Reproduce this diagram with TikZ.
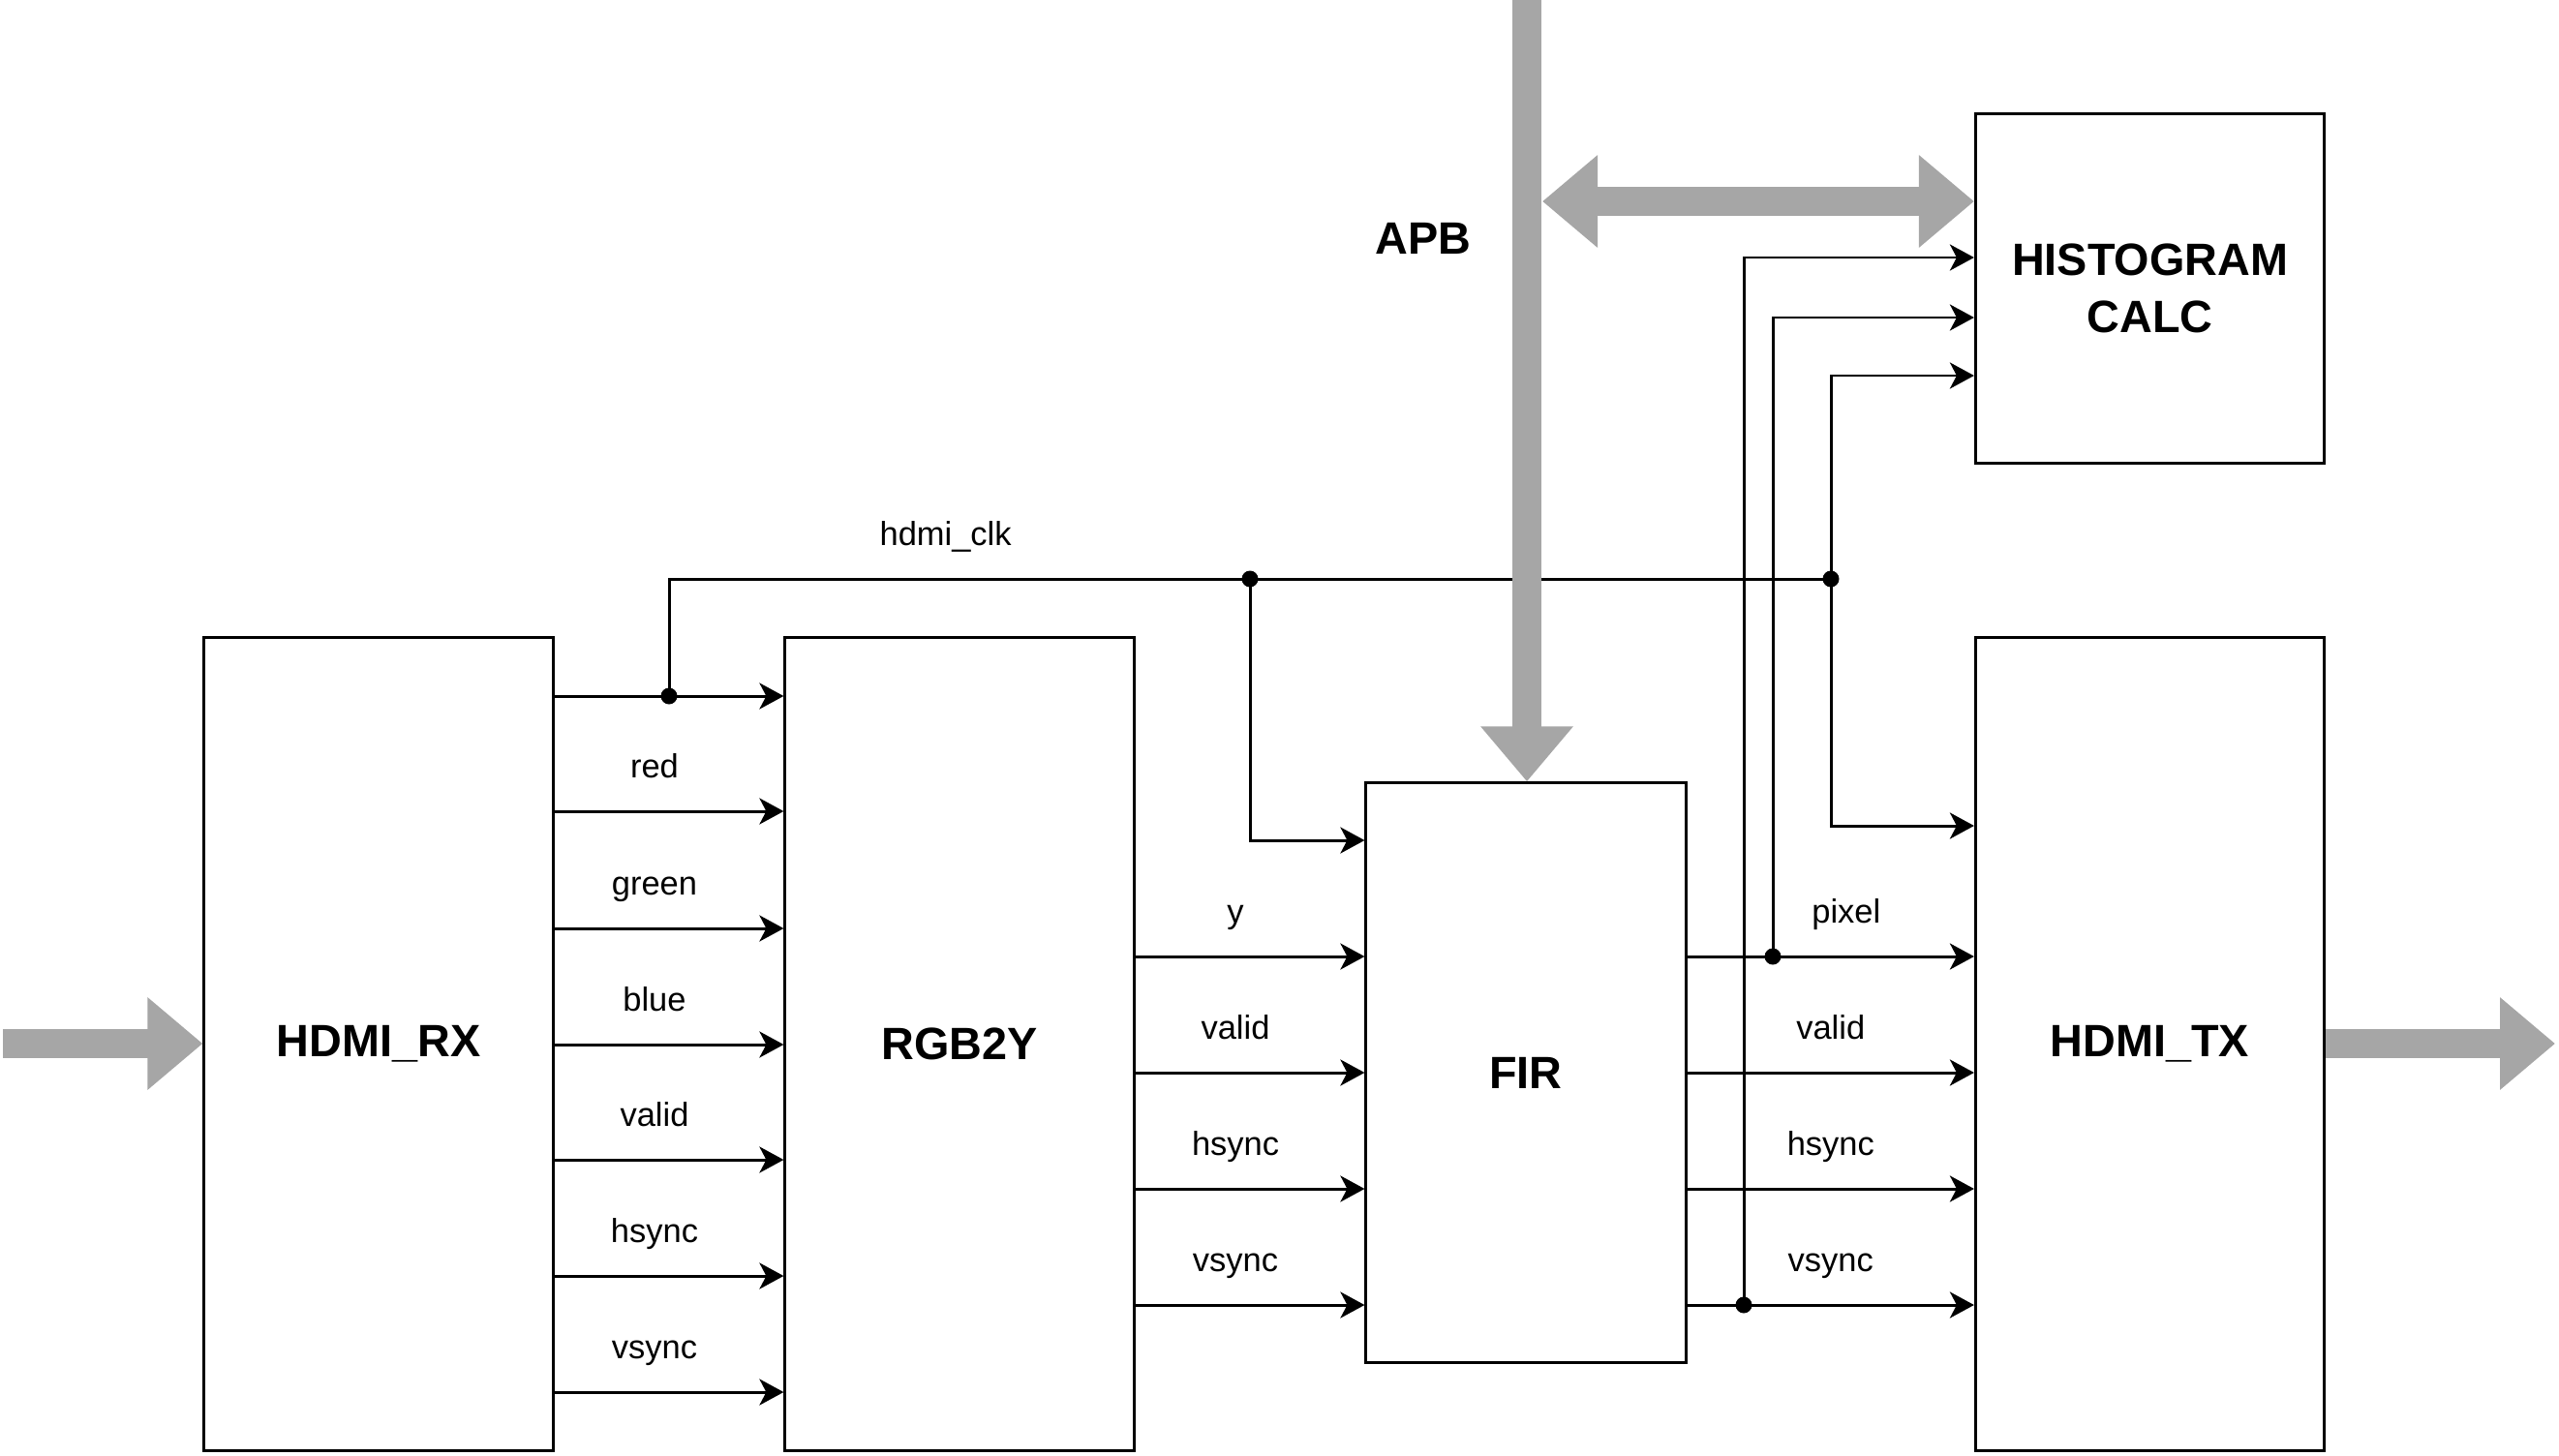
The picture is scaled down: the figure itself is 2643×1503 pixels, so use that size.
\documentclass[tikz,border=0pt]{standalone}
\usepackage{fontspec}
\setmainfont{Liberation Sans}
\usetikzlibrary{arrows.meta, positioning, calc}

\definecolor{busgray}{RGB}{166, 166, 166}

\tikzset{
  bigtip/.tip={Triangle[length=0.57cm, width=0.92cm]},
  block/.style={draw, line width=0.85pt, fill=white, minimum width=3.6cm, inner sep=0pt, align=center, font=\fontsize{13.3}{16.8}\selectfont\bfseries},
  wire/.style={line width=0.85pt},
  sig/.style={wire, -{Stealth[length=0.25cm, width=0.27cm, inset=0.07cm]}},
  lbl/.style={anchor=base, inner sep=0pt, yshift=0.34cm, font=\fontsize{9.8}{12}\selectfont},
  bus/.style={draw=busgray, line width=0.3cm, -bigtip},
  dot/.style={circle, fill, inner sep=0pt, minimum size=0.17cm}
}

\begin{document}
\begin{tikzpicture}[x=0.01cm, y=-0.01cm]
  \useasboundingbox (0,0) rectangle (2643,1503);

  % Blocks
  \node[block, minimum height=8.39cm] (rx) at (391,1078.5) {HDMI\_RX};
  \node[block, minimum height=8.39cm] (rgb) at (991,1078.5) {RGB2Y};
  \node[block, minimum width=3.3cm, minimum height=5.98cm] (fir) at (1576,1108) {FIR};
  \node[block, minimum height=8.39cm] (tx) at (2220.5,1078.5) {HDMI\_TX};
  \node[block, minimum height=3.6cm] (hist) at (2220.5,298) {HISTOGRAM\\CALC};
  \node[font=\fontsize{13.3}{16.8}\selectfont\bfseries] (apb) at (1470,246) {APB};

  % HDMI_RX -> RGB2Y
  \draw[sig] (rx.east |- 0,719) -- (rgb.west |- 0,719);
  \foreach \yy/\sname in {838/red, 959/green, 1079/blue, 1198/valid, 1318/hsync, 1438/vsync}
    \draw[sig] (rx.east |- 0,\yy) -- node[lbl, xshift=-0.15cm] (rxl\yy) {\sname} (rgb.west |- 0,\yy);

  % RGB2Y -> FIR
  \foreach \yy/\sname in {988/y, 1108/valid, 1228/hsync, 1348/vsync}
    \draw[sig] (rgb.east |- 0,\yy) -- node[lbl, xshift=-0.15cm] (fl\yy) {\sname} (fir.west |- 0,\yy);

  % FIR -> HDMI_TX
  \draw[sig] (fir.east |- 0,988) -- node[lbl, xshift=0.16cm] (tl988) {pixel} (tx.west |- 0,988);
  \foreach \yy/\sname in {1108/valid, 1228/hsync, 1348/vsync}
    \draw[sig] (fir.east |- 0,\yy) -- node[lbl] (tl\yy) {\sname} (tx.west |- 0,\yy);

  % junctions
  \node[dot] (j1) at (691,719) {};
  \node[dot] (j2) at (1291,598) {};
  \node[dot] (j3) at (1891,598) {};
  \node[dot] (j4) at (1831,988) {};
  \node[dot] (j5) at (1801,1348) {};

  % hdmi_clk
  \draw[wire] (j1.center) |- node[lbl, pos=0.619] (clk) {hdmi\_clk} (j3.center);
  \draw[sig] (j2.center) |- (fir.west |- 0,868);
  \draw[sig] (j3.center) |- (tx.west |- 0,853);
  \draw[sig] (j3.center) |- (hist.west |- 0,388);

  % taps to histogram
  \draw[sig] (j4.center) |- (hist.west |- 0,328);
  \draw[sig] (j5.center) |- (hist.west |- 0,266);

  % Buses
  \coordinate (busin) at (3,1078);
  \coordinate (busout) at (2639,1078);
  \coordinate (apbtop) at (1577,0);
  \coordinate (apbtap) at (1593,208);
  \draw[bus] (busin) -- (rx.west |- busin);
  \draw[bus] (tx.east |- busout) -- (busout);
  \draw[bus] (apbtop) -- (fir.north -| apbtop);
  \draw[bus, bigtip-bigtip] (apbtap) -- (hist.west |- apbtap);
\end{tikzpicture}
\end{document}
